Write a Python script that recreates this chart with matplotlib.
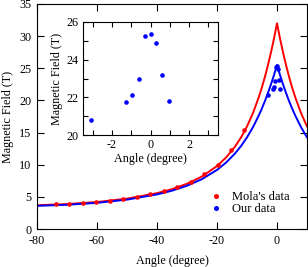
import matplotlib
matplotlib.use("Agg")
import matplotlib.pyplot as plt
from matplotlib.ticker import MultipleLocator

plt.rcParams['font.family'] = ['Liberation Serif', 'DejaVu Serif']
plt.rcParams['axes.unicode_minus'] = False

# Mola's data (red)
mola_angle = [-73.8, -69.3, -64.8, -60.3, -55.8, -51.3, -46.8, -42.3, -37.8, -33.3, -28.8, -24.3, -19.8, -15.3, -10.9]
mola_field = [3.9, 3.9, 4.05, 4.2, 4.35, 4.62, 4.93, 5.4, 5.93, 6.58, 7.36, 8.55, 9.95, 12.25, 15.35]

# Our data (blue)
our_angle = [-3.1, -1.25, -0.94, -0.62, -0.31, 0.0, 0.31, 0.62, 0.94]
our_field = [20.8, 21.75, 22.1, 22.98, 25.27, 25.35, 24.87, 23.2, 21.78]

# Fit curves
curve_angle = [-80, -70, -60, -50, -40, -35, -30, -25, -20, -17, -14, -12, -10, -8, -6, -5, -4, -3, -2, -1, 0,
               1, 2, 3, 4, 5, 6, 8, 10]
red_curve = [3.70, 3.88, 4.20, 4.72, 5.58, 6.20, 7.04, 8.17, 9.79, 11.11, 12.81, 14.23, 15.96, 18.04, 20.60, 22.08,
             23.71, 25.52, 27.49, 29.64, 32.0,
             29.64, 27.49, 25.52, 23.71, 22.08, 20.60, 18.04, 15.96]
blue_curve = [3.60, 3.77, 4.07, 4.57, 5.38, 5.96, 6.73, 7.76, 9.19, 10.32, 11.75, 12.90, 14.25, 15.85, 17.73, 18.79,
              19.93, 21.18, 22.51, 23.95, 25.5,
              23.95, 22.51, 21.18, 19.93, 18.79, 17.73, 15.85, 14.25]

FS = 8.7
W, H = 308, 267
fig = plt.figure(figsize=(W / 100, H / 100), dpi=100)
ax = fig.add_axes([37 / W, 1 - 229 / H, 270 / W, 225 / H])

ax.plot(curve_angle, red_curve, color='red', lw=1.4, zorder=2)
ax.plot(curve_angle, blue_curve, color='blue', lw=1.4, zorder=2)
ax.plot(mola_angle, mola_field, 'o', color='red', ms=3.3, mec='none', label="Mola's data", zorder=3)
ax.plot(our_angle, our_field, 'o', color='blue', ms=3.3, mec='none', label='Our data', zorder=3)

ax.set_xlim(-80, 10)
ax.set_ylim(0, 35)
ax.xaxis.set_major_locator(MultipleLocator(20))
ax.yaxis.set_major_locator(MultipleLocator(5))
ax.tick_params(direction='in', top=True, right=True, length=5, width=0.8, labelsize=FS, pad=4)
ax.set_xlabel('Angle (degree)', fontsize=FS, labelpad=6)
ax.set_ylabel('Magnetic Field (T)', fontsize=FS, labelpad=4)

leg = ax.legend(loc='lower right', bbox_to_anchor=(0.937, 0.062), frameon=False, fontsize=9,
                handlelength=1.0, handletextpad=0.8, labelspacing=0.0, borderaxespad=0, borderpad=0,
                numpoints=1, markerscale=1.1)

# Inset
ins = fig.add_axes([83 / W, 1 - 135 / H, 135 / W, 113 / H])
ins.plot(our_angle, our_field, 'o', color='blue', ms=3.3, mec='none')
ins.set_xlim(-3.5, 3.5)
ins.set_ylim(20, 26)
ins.xaxis.set_major_locator(MultipleLocator(2))
ins.xaxis.set_minor_locator(MultipleLocator(1))
ins.yaxis.set_major_locator(MultipleLocator(2))
ins.yaxis.set_minor_locator(MultipleLocator(1))
ins.tick_params(which='both', direction='in', top=True, right=True, length=3.5, width=0.8, labelsize=FS, pad=3)
ins.set_xlabel('Angle (degree)', fontsize=FS, labelpad=1)
ins.set_ylabel('Magnetic Field (T)', fontsize=FS, labelpad=3)

fig.savefig('out.png', dpi=100)
